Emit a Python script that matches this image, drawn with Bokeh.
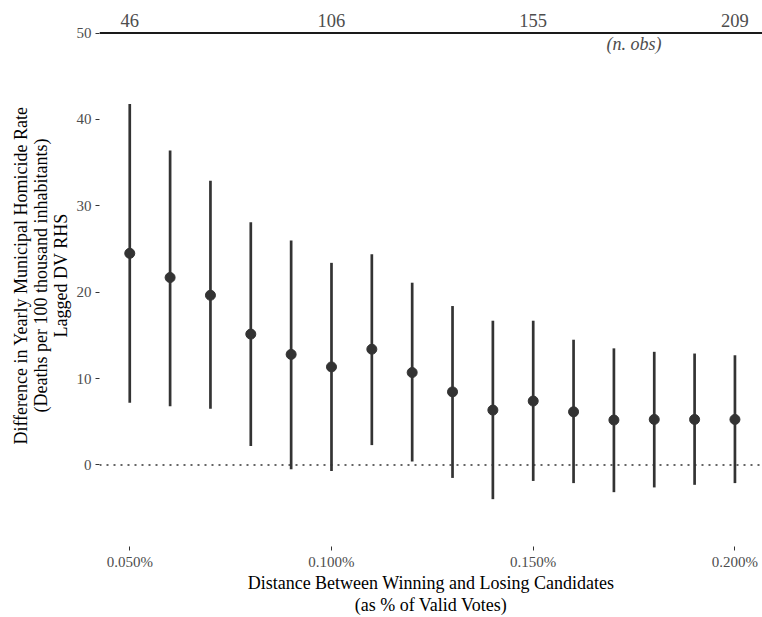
from bokeh.plotting import figure
from bokeh.models import Range1d, FixedTicker, ColumnDataSource, Span
from bokeh.core.properties import value
from bokeh.embed import file_html
from bokeh.resources import INLINE

# Data
margin = [0.05, 0.06, 0.07, 0.08, 0.09, 0.10, 0.11, 0.12,
          0.13, 0.14, 0.15, 0.16, 0.17, 0.18, 0.19, 0.20]
estimate = [24.5, 21.7, 19.65, 15.15, 12.8, 11.35, 13.4, 10.7,
            8.46, 6.35, 7.4, 6.15, 5.2, 5.27, 5.27, 5.27]
ci_low = [7.2, 6.8, 6.5, 2.2, -0.5, -0.7, 2.3, 0.4,
          -1.5, -3.96, -1.85, -2.1, -3.15, -2.6, -2.3, -2.1]
ci_high = [41.8, 36.4, 32.9, 28.1, 26.0, 23.4, 24.4, 21.1,
           18.4, 16.7, 16.7, 14.5, 13.5, 13.1, 12.9, 12.7]

nobs_x = [0.05, 0.10, 0.15, 0.20]
nobs = ["46", "106", "155", "209"]
nobs_level = 50
nobs_caption = "(n. obs)"
nobs_caption_x = 0.175

x_ticks = [0.05, 0.10, 0.15, 0.20]
x_tick_labels = ["0.050%", "0.100%", "0.150%", "0.200%"]
y_ticks = [0, 10, 20, 30, 40, 50]
y_tick_labels = ["0", "10", "20", "30", "40", "50"]

FONT = "Liberation Serif"
DARK = "#333333"
GRAY = "#4d4d4d"

p = figure(width=762, height=617, output_backend="svg", toolbar_location=None,
           x_range=Range1d(0.0425, 0.20683), y_range=Range1d(-9.44, 53.31),
           min_border_left=99, min_border_right=0, min_border_top=4, min_border_bottom=67)
p.outline_line_color = None
p.xgrid.visible = False
p.ygrid.visible = False
p.background_fill_color = "white"
p.border_fill_color = "white"

src = ColumnDataSource(dict(x=margin, y=estimate, lo=ci_low, hi=ci_high))
p.segment(x0="x", y0="lo", x1="x", y1="hi", source=src, line_color=DARK, line_width=2.7)
p.scatter(x="x", y="y", source=src, size=10, fill_color=DARK, line_color=DARK)

zero = Span(location=0, dimension="width", line_color=DARK, line_dash="2 5", line_width=1.5)
p.add_layout(zero)

# top n.obs bar
p.segment(x0=[0.0425], y0=[nobs_level], x1=[0.20683], y1=[nobs_level],
          line_color="#1a1a1a", line_width=2)
p.text(x=nobs_x, y=[nobs_level] * len(nobs_x), text=nobs, text_font=value(FONT),
       text_font_size="18.5px", text_color=GRAY, text_align="center",
       text_baseline="alphabetic", y_offset=-13)
p.text(x=[nobs_caption_x], y=[nobs_level], text=[nobs_caption], text_font=value(FONT),
       text_font_style="italic", text_font_size="18px", text_color=GRAY,
       text_align="center", text_baseline="middle", y_offset=11)

# axes
for ax in (p.xaxis[0], p.yaxis[0]):
    ax.axis_line_color = None
    ax.major_tick_line_color = DARK
    ax.major_tick_in = 0
    ax.major_tick_out = 4
    ax.minor_tick_line_color = None
    ax.major_label_text_font = FONT
    ax.major_label_text_font_size = "15px"
    ax.major_label_text_color = GRAY
    ax.axis_label_text_font = FONT
    ax.axis_label_text_font_size = "18px"
    ax.axis_label_text_font_style = "normal"
    ax.axis_label_text_color = "black"

p.xaxis.ticker = FixedTicker(ticks=x_ticks)
p.xaxis.major_label_overrides = dict(zip(x_ticks, x_tick_labels))
p.yaxis.ticker = FixedTicker(ticks=y_ticks)
p.yaxis.major_label_overrides = dict(zip(y_ticks, y_tick_labels))
p.xaxis.axis_label = "Distance Between Winning and Losing Candidates\n(as % of Valid Votes)"
p.yaxis.axis_label = ("Difference in Yearly Municipal Homicide Rate\n"
                      "(Deaths per 100 thousand inhabitants)\nLagged DV RHS")
p.xaxis.axis_label_text_line_height = 1.1
p.yaxis.axis_label_text_line_height = 1.0
p.xaxis.major_label_standoff = 3
p.yaxis.major_label_standoff = 4
p.xaxis.axis_label_standoff = 0
p.yaxis.axis_label_standoff = 3

open("out.html", "w").write(file_html(p, INLINE))
